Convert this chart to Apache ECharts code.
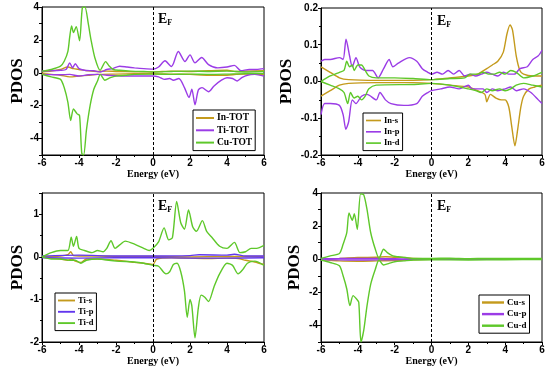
<!DOCTYPE html>
<html><head><meta charset="utf-8">
<script src="https://cdn.jsdelivr.net/npm/echarts@6/dist/echarts.min.js"></script>
<style>html,body{margin:0;padding:0;background:#fff}#c{width:550px;height:367px}</style>
</head><body><div id="c"></div>
<script>
// ---- Panel (a): total PDOS ----
const inTotUp = [[-6,0.05],[-5.5,0.1],[-5,0.2],[-4.6,0.35],[-4.3,0.25],[-4,0.2],[-3.5,0.12],[-3,0.08],[-2.5,0.1],[-2,0.08],[-1,0.06],[0,0.05],[0.5,0.08],[1,0.1],[2,0.08],[3,0.12],[4,0.15],[4.5,0.08],[5,0.1],[6,0.12]];
const inTotDn = [[-6,-0.05],[-5.5,-0.1],[-5,-0.15],[-4.5,-0.25],[-4,-0.2],[-3.5,-0.15],[-3,-0.1],[-2,-0.08],[-1,-0.06],[0,-0.05],[1,-0.08],[2,-0.1],[3,-0.15],[4,-0.15],[4.5,-0.1],[5,-0.08],[6,-0.1]];
const tiTotUp = [[-6,0.1],[-5,0.15],[-4.7,0.2],[-4.5,0.6],[-4.35,0.3],[-4.2,0.55],[-4.0,0.25],[-3.7,0.15],[-3.2,0.12],[-2.85,0.05],[-2.5,0.2],[-2.2,0.25],[-1.8,0.4],[-1.4,0.35],[-1,0.3],[-0.5,0.25],[0,0.22],[0.3,0.35],[0.65,0.73],[1.0,0.38],[1.1,0.55],[1.37,1.29],[1.73,0.68],[2.0,1.09],[2.27,0.6],[2.63,0.93],[3.0,0.5],[3.5,0.3],[4.0,0.35],[4.4,0.45],[4.75,0.12],[5.2,0.2],[5.6,0.2],[6,0.25]];
const tiTotDn = [[-6,-0.1],[-5,-0.12],[-4.5,-0.1],[-4,-0.2],[-3.5,-0.12],[-3,-0.1],[-2.5,-0.15],[-2,-0.18],[-1,-0.2],[0,-0.2],[0.3,-0.25],[0.6,-0.4],[0.9,-0.35],[1.1,-0.45],[1.4,-0.35],[1.7,-0.9],[1.95,-1.5],[2.1,-1.0],[2.27,-1.95],[2.45,-1.05],[2.65,-0.9],[3.0,-1.15],[3.3,-0.8],[3.7,-0.45],[4.0,-0.3],[4.3,-0.35],[4.55,-0.5],[4.8,-0.3],[5.1,-0.15],[5.5,-0.1],[6,-0.2]];
const cuTotUp = [[-6,0.1],[-5.5,0.2],[-5,0.4],[-4.8,0.7],[-4.6,1.3],[-4.5,2.2],[-4.4,2.85],[-4.3,2.45],[-4.15,2.8],[-3.97,1.95],[-3.82,3.95],[-3.68,4.0],[-3.5,3.0],[-3.35,2.0],[-3.14,0.9],[-2.86,0.15],[-2.56,0.68],[-2.4,0.45],[-2.15,0.2],[-1.8,0.15],[-1.2,0.1],[-0.5,0.08],[0,0.05],[1,0.08],[2,0.1],[3,0.08],[4,0.1],[5,0.05],[6,0.08]];
const cuTotDn = [[-6,-0.1],[-5.5,-0.25],[-5,-0.4],[-4.8,-0.9],[-4.6,-1.8],[-4.45,-2.9],[-4.3,-2.2],[-4.1,-2.5],[-3.97,-2.6],[-3.85,-4.9],[-3.75,-5],[-3.6,-3.5],[-3.4,-2.0],[-3.2,-1.0],[-3.0,-0.5],[-2.85,-0.1],[-2.6,-0.45],[-2.3,-0.3],[-2,-0.2],[-1.5,-0.15],[-1,-0.1],[0,-0.08],[1,-0.1],[2,-0.08],[3,-0.1],[4,-0.08],[5,-0.05],[6,-0.05]];

// ---- Panel (b): In orbitals ----
const inSUp = [[-6,0.04],[-5.5,0.025],[-5,0.01],[-4.5,0.005],[-3,0.003],[-1,0.003],[0,0.005],[1,0.01],[2,0.015],[2.5,0.02],[3,0.035],[3.3,0.045],[3.6,0.055],[3.9,0.08],[4.1,0.13],[4.27,0.154],[4.4,0.14],[4.6,0.07],[4.8,0.03],[5,0.02],[5.5,0.015],[6,0.015]];
const inSDn = [[-6,-0.04],[-5.5,-0.025],[-5,-0.01],[-4.5,-0.005],[-3,-0.003],[-1,-0.003],[0,-0.005],[1,-0.01],[2,-0.015],[2.5,-0.025],[2.9,-0.035],[3.0,-0.055],[3.2,-0.035],[3.5,-0.045],[3.8,-0.05],[4.0,-0.05],[4.2,-0.07],[4.35,-0.12],[4.53,-0.175],[4.68,-0.13],[4.85,-0.07],[5.0,-0.04],[5.3,-0.02],[5.6,-0.015],[6,-0.01]];
const inPUp = [[-6,0.055],[-5.8,0.06],[-5.5,0.06],[-5.0,0.065],[-4.8,0.06],[-4.64,0.115],[-4.45,0.07],[-4.3,0.04],[-4.1,0.065],[-3.9,0.04],[-3.6,0.03],[-3.2,0.03],[-2.9,0.01],[-2.6,0.035],[-2.3,0.06],[-2.1,0.04],[-1.8,0.05],[-1.2,0.065],[-0.8,0.055],[-0.5,0.035],[-0.2,0.025],[0,0.02],[0.3,0.025],[0.6,0.02],[0.9,0.03],[1.2,0.02],[1.5,0.03],[1.8,0.015],[2.1,0.02],[2.4,0.015],[2.7,0.02],[3.0,0.025],[3.3,0.02],[3.6,0.015],[3.9,0.025],[4.2,0.02],[4.5,0.02],[4.8,0.035],[5.2,0.04],[5.5,0.06],[5.8,0.07],[6,0.085]];
const inPDn = [[-6,-0.09],[-5.8,-0.06],[-5.5,-0.06],[-5.0,-0.065],[-4.8,-0.09],[-4.65,-0.13],[-4.5,-0.11],[-4.3,-0.05],[-4.1,-0.06],[-3.8,-0.04],[-3.5,-0.035],[-3.0,-0.05],[-2.8,-0.03],[-2.5,-0.05],[-2.2,-0.06],[-1.5,-0.065],[-0.8,-0.06],[-0.5,-0.04],[-0.2,-0.03],[0,-0.025],[0.5,-0.02],[1,-0.015],[1.5,-0.02],[2,-0.01],[2.2,-0.02],[2.5,-0.02],[2.8,-0.02],[3.0,-0.03],[3.3,-0.02],[3.6,-0.025],[4.0,-0.02],[4.3,-0.015],[4.6,-0.025],[5,-0.02],[5.4,-0.03],[5.8,-0.05],[6,-0.06]];
const inDUp = [[-6,0.0],[-5.5,0.015],[-5,0.025],[-4.75,0.03],[-4.6,0.055],[-4.45,0.04],[-4.3,0.045],[-4.2,0.03],[-4.0,0.045],[-3.8,0.045],[-3.6,0.03],[-3.4,0.015],[-3.0,0.01],[-2,0.01],[-1,0.008],[0,0.005],[1,0.008],[1.8,0.01],[2.1,0.02],[2.5,0.02],[2.8,0.025],[3.1,0.02],[3.4,0.02],[3.7,0.025],[4.0,0.02],[4.3,0.03],[4.6,0.025],[5,0.01],[5.5,0.015],[6,0.025]];
const inDDn = [[-6,0.0],[-5.5,-0.01],[-5,-0.02],[-4.75,-0.03],[-4.55,-0.06],[-4.4,-0.03],[-4.2,-0.045],[-4.0,-0.04],[-3.8,-0.05],[-3.6,-0.04],[-3.4,-0.02],[-3,-0.01],[-1,-0.008],[0,-0.005],[1,-0.01],[2,-0.02],[2.4,-0.025],[2.7,-0.03],[3.0,-0.02],[3.3,-0.025],[3.7,-0.02],[4.0,-0.025],[4.3,-0.02],[4.6,-0.01],[5,-0.005],[5.5,-0.01],[6,-0.015]];

// ---- Panel (c): Ti orbitals ----
const tiSUp = [[-6,0.0],[-5,0.02],[-4.6,0.05],[-4.45,0.12],[-4.3,0.03],[-4,0.02],[-3,0.02],[-2,0.01],[0,0.01],[2,0.0],[4,0.01],[6,0.01]];
const tiSDn = [[-6,0.0],[-5.5,-0.03],[-5,-0.05],[-4.6,-0.08],[-4.4,-0.05],[-4.2,-0.1],[-3.9,-0.13],[-3.6,-0.05],[-3,-0.05],[-2,-0.08],[-1.5,-0.1],[-1,-0.13],[-0.5,-0.15],[0,-0.18],[0.2,-0.05],[1,-0.02],[2,-0.03],[3,-0.04],[4,-0.03],[4.6,-0.04],[5,-0.08],[5.5,-0.12],[6,-0.18]];
const tiPUp = [[-6,0.02],[-4,0.04],[-2,0.02],[0,0.02],[2,0.03],[2.5,0.05],[4,0.04],[4.4,0.06],[5,0.02],[6,0.02]];
const tiPDn = [[-6,-0.02],[-4,-0.03],[-2,-0.02],[0,-0.02],[2,-0.03],[4,-0.03],[6,-0.02]];
const tiDUp = [[-6,0.0],[-5.5,0.1],[-5,0.15],[-4.6,0.15],[-4.42,0.46],[-4.3,0.25],[-4.13,0.48],[-4.0,0.2],[-3.7,0.15],[-3.3,0.1],[-3,0.15],[-2.7,0.12],[-2.5,0.2],[-2.27,0.38],[-2.05,0.2],[-1.8,0.28],[-1.5,0.37],[-1.0,0.3],[-0.5,0.2],[-0.2,0.15],[0,0.2],[0.3,0.35],[0.6,0.68],[0.85,0.4],[1.05,0.45],[1.28,1.3],[1.5,0.8],[1.7,0.65],[1.92,1.1],[2.15,0.7],[2.35,0.6],[2.67,0.85],[2.9,0.6],[3.2,0.45],[3.6,0.25],[4.0,0.2],[4.4,0.34],[4.7,0.1],[5.0,0.12],[5.3,0.2],[5.6,0.2],[6,0.27]];
const tiDDn = [[-6,0.0],[-5.5,-0.05],[-5,-0.05],[-4.5,-0.08],[-4.2,-0.08],[-3.9,-0.15],[-3.6,-0.08],[-3,-0.05],[-2,-0.1],[-1,-0.12],[-0.5,-0.15],[0,-0.2],[0.3,-0.22],[0.7,-0.4],[0.9,-0.35],[1.1,-0.18],[1.3,-0.15],[1.5,-0.35],[1.7,-0.8],[1.85,-1.42],[2.0,-1.0],[2.1,-1.15],[2.27,-1.9],[2.45,-1.2],[2.6,-0.9],[2.8,-0.95],[3.0,-1.05],[3.3,-0.7],[3.6,-0.4],[4.0,-0.15],[4.3,-0.2],[4.6,-0.4],[4.85,-0.3],[5.1,-0.15],[5.5,-0.1],[6,-0.2]];

// ---- Panel (d): Cu orbitals ----
const cuSUp = [[-6,0.02],[-5,0.05],[-4,0.1],[-3,0.12],[-2.5,0.15],[-2,0.12],[-1.5,0.1],[-1,0.05],[0,0.02],[6,0.02]];
const cuSDn = [[-6,-0.02],[-5,-0.1],[-4,-0.12],[-3,-0.1],[-2,-0.08],[-1,-0.03],[0,-0.01],[6,-0.01]];
const cuPUp = [[-6,0.03],[-5,0.04],[-4,0.05],[-3,0.04],[-2,0.03],[-1,0.01],[0,0.01],[6,0.01]];
const cuPDn = [[-6,-0.03],[-5,-0.04],[-4,-0.05],[-3,-0.04],[-2,-0.03],[-1,-0.01],[0,-0.01],[6,-0.01]];
const cuDUp = [[-6,0.05],[-5.5,0.2],[-5,0.35],[-4.8,0.9],[-4.6,1.6],[-4.48,2.8],[-4.3,2.35],[-4.19,2.75],[-4.03,1.8],[-3.85,3.95],[-3.68,3.9],[-3.5,3.0],[-3.3,1.6],[-3.05,0.6],[-2.85,0.05],[-2.6,0.6],[-2.4,0.4],[-2.1,0.2],[-1.8,0.15],[-1.4,0.1],[-1,0.05],[0,0.05],[1,0.06],[2,0.03],[3,0.05],[4,0.04],[5,0.05],[6,0.05]];
const cuDDn = [[-6,-0.05],[-5.5,-0.2],[-5,-0.4],[-4.8,-1.0],[-4.6,-1.8],[-4.43,-2.8],[-4.26,-2.2],[-4.07,-2.4],[-3.95,-2.6],[-3.83,-5.0],[-3.68,-4.3],[-3.5,-2.8],[-3.3,-1.5],[-3.05,-0.6],[-2.85,-0.05],[-2.6,-0.35],[-2.3,-0.25],[-2,-0.15],[-1.5,-0.1],[-1,-0.05],[0,-0.03],[2,-0.05],[4,-0.03],[6,-0.02]];

const xTicks = {min:-6, max:6, interval:2};
const yRanges = [
  {min:-5, max:4, interval:1, step:2, dec:0},
  {min:-0.2, max:0.2, interval:0.1, step:0.1, dec:1},
  {min:-2, max:1.5, interval:1, step:1, dec:0},
  {min:-5, max:4, interval:1, step:2, dec:0}
];
const legendNames = [['In-TOT','Ti-TOT','Cu-TOT'],['In-s','In-p','In-d'],['Ti-s','Ti-p','Ti-d'],['Cu-s','Cu-p','Cu-d']];

const GOLD='#c49a1c', PURPLE='#9b3ce6', GREEN='#5ec82a', BLUE='#6236ee';
const SERIF='"Liberation Serif","Times New Roman",serif';
const SANS='"Liberation Sans",Arial,sans-serif';

const grids = [
  {left:42, top:7, width:222, height:148},
  {left:321, top:8, width:221, height:147},
  {left:42, top:193, width:222, height:149},
  {left:321, top:193, width:221, height:149}
];
const yNameGaps = [15, 26, 15, 18];

const panelSeries = [
  [['In-TOT',GOLD,inTotUp,inTotDn],['Ti-TOT',PURPLE,tiTotUp,tiTotDn],['Cu-TOT',GREEN,cuTotUp,cuTotDn]],
  [['In-s',GOLD,inSUp,inSDn],['In-p',PURPLE,inPUp,inPDn],['In-d',GREEN,inDUp,inDDn]],
  [['Ti-s',GOLD,tiSUp,tiSDn],['Ti-p',BLUE,tiPUp,tiPDn],['Ti-d',GREEN,tiDUp,tiDDn]],
  [['Cu-s',GOLD,cuSUp,cuSDn],['Cu-p',PURPLE,cuPUp,cuPDn],['Cu-d',GREEN,cuDUp,cuDDn]]
];

const xAxis = [], yAxis = [], series = [], legend = [], graphic = [];
grids.forEach((g,i)=>{
  g.show = true; g.borderColor = '#000'; g.borderWidth = 1; g.backgroundColor='#fff';
  xAxis.push({type:'value', gridIndex:i, min:xTicks.min, max:xTicks.max, interval:xTicks.interval,
    name:'Energy (eV)', nameLocation:'middle', nameGap:14,
    nameTextStyle:{fontFamily:SERIF, fontWeight:'bold', fontSize:10, color:'#000'},
    axisLine:{onZero:false, lineStyle:{color:'#000', width:1}},
    axisTick:{show:true, inside:false, length:3, lineStyle:{color:'#000'}},
    minorTick:{show:true, splitNumber:2, length:2, lineStyle:{color:'#000'}},
    splitLine:{show:false},
    axisLabel:{margin:3, fontFamily:SANS, fontWeight:'bold', fontSize:10, color:'#000'}
  });
  const yr = yRanges[i];
  yAxis.push({type:'value', gridIndex:i, min:yr.min, max:yr.max, interval:yr.interval,
    name:'PDOS', nameLocation:'middle', nameGap:yNameGaps[i],
    nameTextStyle:{fontFamily:SERIF, fontWeight:'bold', fontSize:17, color:'#000'},
    axisLine:{onZero:false, lineStyle:{color:'#000', width:1}},
    axisTick:{show:true, inside:false, length:3, lineStyle:{color:'#000'}},
    minorTick:{show:i===1||i===2, splitNumber:2, length:2, lineStyle:{color:'#000'}},
    splitLine:{show:false},
    axisLabel:{margin:3, fontFamily:SANS, fontWeight:'bold', fontSize:10, color:'#000',
      formatter:(v)=>{
        const q = v/yr.step;
        if (Math.abs(q-Math.round(q))>1e-6) return '';
        return (Math.abs(v)<1e-9?0:v).toFixed(yr.dec);
      }}
  });
  panelSeries[i].forEach(([name,color,up,dn],k)=>{
    [up,dn].forEach((d,j)=>{
      const s = {type:'line', name:name, xAxisIndex:i, yAxisIndex:i, data:d, symbol:'none',
        smooth:0.25, lineStyle:{color:color, width:1.4}, itemStyle:{color:color}, z:2+k, silent:true, animation:false};
      if (k===0 && j===0) {
        s.markLine = {silent:true, symbol:'none', label:{show:false},
          lineStyle:{color:'#000', type:[3,2], width:1}, data:[{xAxis:0}], animation:false};
      }
      series.push(s);
    });
  });
});

// legend placement / sizing per panel
const legendCfg = [
  {left:193, top:110, iw:18, ih:7, gap:2.3, fs:9.5},
  {left:363, top:113, iw:15, ih:7, gap:2.3, fs:8.5},
  {left:55,  top:293, iw:17, ih:7, gap:2.3, fs:8.5},
  {left:479, top:295, iw:22, ih:8, gap:2.6, fs:9}
];
legendCfg.forEach((c,i)=>{
  legend.push({left:c.left, top:c.top, data:legendNames[i], orient:'vertical', selectedMode:false,
    borderColor:'#000', borderWidth:1, backgroundColor:'#fff', padding:[3,3,3,3],
    itemGap:c.gap, itemWidth:c.iw, itemHeight:c.ih,
    textStyle:{fontFamily:SERIF, fontWeight:'bold', fontSize:c.fs, lineHeight:c.ih, color:'#000', padding:[0,0,0,-2]},
    icon:'path://M0,0 L20,0 L20,2.2 L0,2.2 Z'});
});

const efPos = [[158,12],[437,14],[158,199],[437,199]];
efPos.forEach(p=>{
  graphic.push({type:'text', left:p[0], top:p[1], z:10, style:{
    rich:{e:{fontFamily:SERIF, fontWeight:'bold', fontSize:14, fill:'#000'},
          f:{fontFamily:SERIF, fontWeight:'bold', fontSize:8, fill:'#000', padding:[8,0,0,0]}},
    text:'{e|E}{f|F}'}});
});

const chart = echarts.init(document.getElementById('c'), null, {renderer:'canvas'});
chart.setOption({backgroundColor:'#fff', animation:false, grid:grids, xAxis, yAxis, series, legend, graphic});
</script></body></html>
